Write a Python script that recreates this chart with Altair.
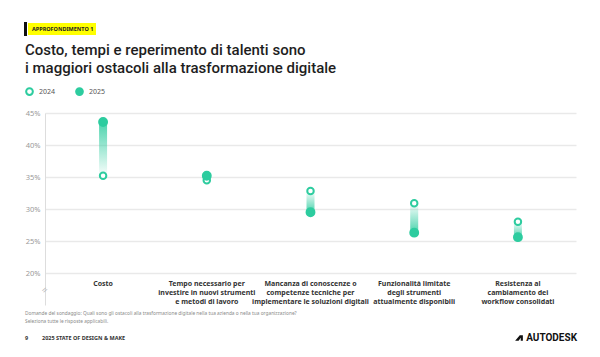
import altair as alt
import pandas as pd

# ---- data ----
categories = [
    "Costo",
    "Tempo necessario per|investire in nuovi strumenti|e metodi di lavoro",
    "Mancanza di conoscenze o|competenze tecniche per|implementare le soluzioni digitali",
    "Funzionalità limitate|degli strumenti|attualmente disponibili",
    "Resistenza al|cambiamento dei|workflow consolidati",
]
v2024 = [35.2, 34.5, 32.8, 30.9, 28.0]
v2025 = [43.6, 35.2, 29.5, 26.3, 25.6]
years = ["2024", "2025"]
y_ticks = [20, 25, 30, 35, 40, 45]

TEAL = "#2dcc9f"
FONT = "Noto Sans"
TITLE_FONT = "Roboto"

wide = pd.DataFrame({"cat": categories, "v2024": v2024, "v2025": v2025})
long = pd.concat([
    pd.DataFrame({"cat": categories, "year": "2024", "val": v2024}),
    pd.DataFrame({"cat": categories, "year": "2025", "val": v2025}),
], ignore_index=True)

x_enc = alt.X(
    "cat:N", sort=categories,
    scale=alt.Scale(paddingInner=0, paddingOuter=0.06),
    axis=alt.Axis(
        title=None, domain=False, ticks=False, grid=False, labelAngle=0,
        labelExpr="split(datum.label, '|')", labelFont=FONT, labelFontSize=7,
        labelFontWeight="bold", labelColor="#333333", labelLineHeight=9,
        labelPadding=-26, labelBaseline="top", labelLimit=300,
    ),
)
y_scale = alt.Scale(domain=[15, 45], nice=False, zero=False)
y_axis = alt.Axis(
    title=None, values=y_ticks, tickCount=6, labelExpr="datum.value + '%'",
    grid=True, gridColor="#e9e9e9", gridWidth=1.5, ticks=False,
    domain=True, domainColor="#dddddd", labelColor="#9a9a9a",
    labelFont=FONT, labelFontSize=7.5, labelPadding=5, labelOverlap=False,
)

grad_down = alt.LinearGradient(
    gradient="linear", x1=0, y1=0, x2=0, y2=1,
    stops=[alt.GradientStop(color="rgba(45,204,159,0.85)", offset=0),
           alt.GradientStop(color="rgba(45,204,159,0.03)", offset=1)],
)
grad_up = alt.LinearGradient(
    gradient="linear", x1=0, y1=0, x2=0, y2=1,
    stops=[alt.GradientStop(color="rgba(45,204,159,0.03)", offset=0),
           alt.GradientStop(color="rgba(45,204,159,0.85)", offset=1)],
)

base_w = alt.Chart(wide)
bars_down = base_w.transform_filter("datum.v2025 >= datum.v2024").mark_bar(
    width=8, color=grad_down).encode(
    x=x_enc, y=alt.Y("v2025:Q", scale=y_scale, axis=y_axis), y2="v2024:Q")
bars_up = base_w.transform_filter("datum.v2025 < datum.v2024").mark_bar(
    width=8, color=grad_up).encode(
    x=x_enc, y=alt.Y("v2025:Q", scale=y_scale, axis=y_axis), y2="v2024:Q")

points = alt.Chart(long).mark_circle(stroke=TEAL, strokeWidth=2, opacity=1).encode(
    x=x_enc,
    y=alt.Y("val:Q", scale=y_scale, axis=y_axis),
    fill=alt.Fill("year:N", scale=alt.Scale(domain=years, range=["#ffffff", TEAL]),
                  legend=alt.Legend(
                      title=None, orient="none", legendX=-20, legendY=-26,
                      direction="horizontal", symbolType="circle",
                      symbolStrokeColor=TEAL, symbolStrokeWidth=2, symbolSize=45,
                      labelFont=FONT, labelFontSize=7, labelColor="#555555",
                      columnPadding=16, labelOffset=5)),
    size=alt.condition("datum.year == '2025'", alt.value(62), alt.value(42)),
    order=alt.Order("year:N"),
)


def txt(text, x, y, **kw):
    return alt.Chart(pd.DataFrame({"t": [text]})).mark_text(**kw).encode(
        x=alt.value(x), y=alt.value(y), text="t:N")


def box(x, x2, y, y2, color):
    return alt.Chart(pd.DataFrame({"a": [0]})).mark_rect(color=color).encode(
        x=alt.value(x), x2=alt.value(x2), y=alt.value(y), y2=alt.value(y2))


tag_bar = box(-21, -18, -91, -77, "#111111")
tag_box = box(-17, 51, -90, -78, "#ffff00")
tag_txt = txt("APPROFONDIMENTO 1", -13, -84, align="left", baseline="middle",
              font=FONT, fontSize=5.5, fontWeight="bold", color="#222222")
title = txt("Costo, tempi e reperimento di talenti sono\ni maggiori ostacoli alla trasformazione digitale",
            -20, -58, align="left", baseline="alphabetic", lineBreak="\n", lineHeight=18,
            font=TITLE_FONT, fontSize=15, fontWeight=500, color="#1e1e1e")

brk = alt.Chart(pd.DataFrame({"t": ["="]})).mark_text(
    fontSize=10, color="#b8b8b8", angle=320, font=FONT, baseline="middle").encode(
    x=alt.value(0), y=alt.Y(datum=17.3, scale=y_scale, axis=y_axis), text="t:N")

note = txt("Domande del sondaggio: Quali sono gli ostacoli alla trasformazione digitale nella tua azienda o nella tua organizzazione?\nSeleziona tutte le risposte applicabili.",
           -20, 201, align="left", baseline="middle", lineBreak="\n", lineHeight=8,
           font=FONT, fontSize=4.8, color="#8a8a8a")
page = txt("9", -20, 225, align="left", baseline="middle", font=FONT, fontSize=5.5,
           fontWeight="bold", color="#333333")
report = txt("2025 STATE OF DESIGN & MAKE", -3, 225, align="left", baseline="middle",
             font=FONT, fontSize=5.5, fontWeight="bold", color="#333333")
brand = txt("AUTODESK", 532, 225, align="right", baseline="middle", font="Roboto",
            fontSize=10, fontWeight="bold", color="#111111")
logo = alt.Chart(pd.DataFrame({"a": [0]})).mark_point(
    shape="M-1,0.7 L0.2,-0.7 L1,-0.7 L1,0.7 L0.45,0.7 L0.45,-0.05 L-0.1,0.7 Z",
    filled=True, color="#111111", size=60, opacity=1).encode(
    x=alt.value(474), y=alt.value(225))

chart = alt.layer(
    bars_down, bars_up, points, brk,
    tag_bar, tag_box, tag_txt, title, note, page, report, brand, logo,
).resolve_scale(y="shared").properties(
    width=531, height=192,
    padding={"left": 45, "top": 113, "right": 24, "bottom": 52},
    autosize=alt.AutoSizeParams(type="none"),
    background="white",
).configure_view(stroke=None)

chart.save("out.html", embed_options={"renderer": "svg", "actions": False})
